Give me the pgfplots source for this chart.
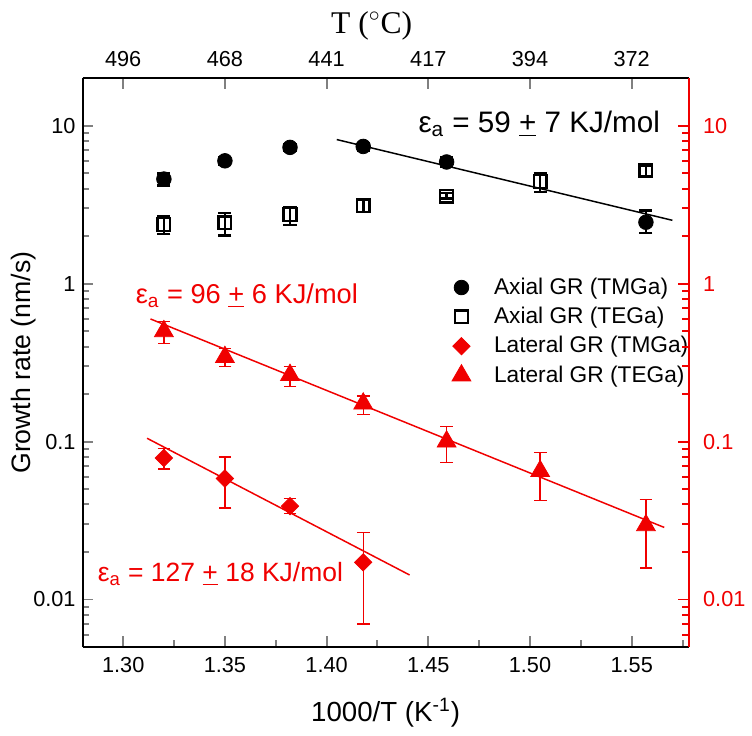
\documentclass[border=0pt]{standalone}
\usepackage{pgfplots}
\pgfplotsset{compat=1.18}
\usepackage{pgfplotstable}
\usepackage{fontspec}
\setmainfont{Liberation Sans}
\newfontfamily\serifT{Liberation Serif}
\definecolor{ored}{RGB}{240,0,0}

% x  y  ep  em
\pgfplotstableread{
x y ep em
1.320 4.6 0.40 0.40
1.350 6.0 0.35 0.35
1.382 7.3 0.35 0.35
1.418 7.4 0.40 0.40
1.459 5.9 0.40 0.40
1.557 2.45 0.45 0.35
}\axtmga
\pgfplotstableread{
x y ep em
1.320 2.37 0.29 0.31
1.350 2.43 0.37 0.41
1.382 2.74 0.32 0.39
1.418 3.12 0.27 0.28
1.459 3.58 0.17 0.13
1.505 4.43 0.57 0.63
1.557 5.20 0.38 0.41
}\axtega
\pgfplotstableread{
x y ep em
1.320 0.0787 0.0121 0.0117
1.350 0.0584 0.0213 0.0204
1.382 0.0390 0.0046 0.0041
1.418 0.0172 0.0093 0.0102
}\lattmga
\pgfplotstableread{
x y ep em
1.320 0.50 0.075 0.083
1.350 0.343 0.047 0.043
1.382 0.264 0.036 0.041
1.418 0.174 0.020 0.025
1.459 0.100 0.025 0.026
1.505 0.065 0.020 0.0225
1.557 0.0295 0.0135 0.0137
}\lattega

\pgfplotsset{
  common/.style={
    at={(0,0)}, anchor=south west,
    scale only axis, width=305.85bp, height=287bp,
    xmin=1.28, xmax=1.578, ymin=0.005, ymax=20,
    tick align=inside,
    major tick length=5.5bp,
    axis line style={-, line width=1bp},
    tick style={line width=1bp},
    ticklabel style={font=\fontsize{11}{13}\selectfont},
    ytick={0.01,0.1,1,10},
    yticklabels={0.01,0.1,1,10},
    xtick={1.30,1.35,1.40,1.45,1.50,1.55},
    clip=false,
  },
  % short ticks drawn by an axis of their own
  minors/.style={
    at={(0,0)}, anchor=south west,
    scale only axis, width=305.85bp, height=287bp,
    xmin=1.28, xmax=1.578, ymin=0.005, ymax=20,
    tick align=inside,
    major tick length=3.5bp,
    axis line style={-, line width=1bp},
    tick style={line width=1bp},
    ytick={0.006,0.007,0.008,0.009,0.02,0.03,0.04,0.05,0.06,0.07,0.08,0.09,
      0.2,0.3,0.4,0.5,0.6,0.7,0.8,0.9,2,3,4,5,6,7,8,9},
    yticklabels={},
    clip=false,
  }
}

\begin{document}
\begin{tikzpicture}
\begin{axis}[common, ymode=log,
  axis x line*=bottom, axis y line*=left,
  xticklabels={1.30,1.35,1.40,1.45,1.50,1.55},
  xticklabel style={yshift=-1.8bp},
  xlabel={1000/T (K\textsuperscript{-1})},
  ylabel={Growth rate (nm/s)},
  x label style={at={(axis description cs:0.5,-0.115)}, anchor=center, font=\fontsize{14}{16}\selectfont},
  y label style={at={(axis description cs:-0.098,0.5)}, anchor=center, font=\fontsize{13.5}{16}\selectfont},
  legend style={at={(rel axis cs:0.609,0.654)}, anchor=north west, draw=none, fill=none,
    inner sep=0pt, column sep=10.5bp, row sep=2.6bp, nodes={inner sep=1.2bp},
    font=\fontsize{11.5}{13}\selectfont},
  legend cell align=left,
  error bars/y dir=both, error bars/y explicit,
]
\addplot[only marks, black, mark=*, mark size=3.7pt,
  error bars/error bar style={line width=1.3bp},
  error bars/error mark options={rotate=90, mark size=3.3bp, line width=1.3bp}]
  table[x=x, y=y, y error plus=ep, y error minus=em] {\axtmga};
\addlegendentry{Axial GR (TMGa)}
\addplot[only marks, black, mark=square, mark size=3.2pt, mark options={line width=1.2bp, fill=white},
  error bars/error bar style={line width=1.3bp},
  error bars/error mark options={rotate=90, mark size=3.3bp, line width=1.3bp}]
  table[x=x, y=y, y error plus=ep, y error minus=em] {\axtega};
\addlegendentry{Axial GR (TEGa)}
\addplot[only marks, ored, mark=square*, mark size=3.1pt, mark options={rotate=45},
  error bars/error bar style={line width=0.7bp},
  error bars/error mark options={rotate=90, mark size=3.2bp, line width=0.7bp}]
  table[x=x, y=y, y error plus=ep, y error minus=em] {\lattmga};
\addlegendentry{Lateral GR (TMGa)}
\addplot[only marks, ored, mark=triangle*, mark size=5.5pt,
  error bars/error bar style={line width=0.7bp},
  error bars/error mark options={rotate=90, mark size=3.2bp, line width=0.7bp}]
  table[x=x, y=y, y error plus=ep, y error minus=em] {\lattega};
\addlegendentry{Lateral GR (TEGa)}

% fits
\addplot[black, line width=0.75bp, no marks, forget plot] coordinates {(1.405,8.18) (1.570,2.52)};
\addplot[ored, line width=0.75bp, no marks, forget plot] coordinates {(1.3134,0.598) (1.566,0.0286)};
\addplot[ored, line width=0.75bp, no marks, forget plot] coordinates {(1.3117,0.105) (1.4408,0.0143)};

\node[anchor=base west, inner sep=0pt, font=\fontsize{15}{17}\selectfont]
  at (axis cs:1.445,9.05) {ε\textsubscript{a} = 59 \underline{+} 7 KJ/mol};
\node[anchor=base west, inner sep=0pt, text=ored, font=\fontsize{13.8}{16}\selectfont]
  at (axis cs:1.306,0.753) {ε\textsubscript{a} = 96 \underline{+} 6 KJ/mol};
\node[anchor=base west, inner sep=0pt, text=ored, font=\fontsize{13.4}{16}\selectfont]
  at (axis cs:1.2873,0.0130) {ε\textsubscript{a} = 127 \underline{+} 18 KJ/mol};
\end{axis}

% minor ticks, left and bottom
\begin{axis}[minors, ymode=log,
  axis x line*=bottom, axis y line*=left,
  xtick={1.325,1.375,1.425,1.475,1.525,1.575},
  xticklabels={},
]
\addplot[draw=none, no marks, forget plot] coordinates {(1.30,1) (1.50,1)};
\end{axis}

% minor ticks, right (red)
\begin{axis}[minors, ymode=log,
  axis y line*=right, hide x axis,
  y axis line style={draw=ored},
  y tick style={ored},
]
\addplot[draw=none, no marks, forget plot] coordinates {(1.30,1) (1.50,1)};
\end{axis}

\begin{axis}[common, ymode=log,
  axis x line*=top, axis y line*=right,
  xticklabels={496,468,441,417,394,372},
  xticklabel style={yshift=2.3bp},
  yticklabel style={xshift=3.8bp, text=ored},
  y axis line style={draw=ored},
  y tick style={ored},
  xlabel={T ($^{\circ}$C)},
  x label style={at={(axis description cs:0.477,1.092)}, anchor=center, font=\serifT\fontsize{16}{18}\selectfont},
]
\addplot[draw=none, no marks, forget plot] coordinates {(1.30,1) (1.50,1)};
\end{axis}
\path (-41.65bp,-44.5bp) rectangle (334.35bp,326.5bp);
\end{tikzpicture}
\end{document}
